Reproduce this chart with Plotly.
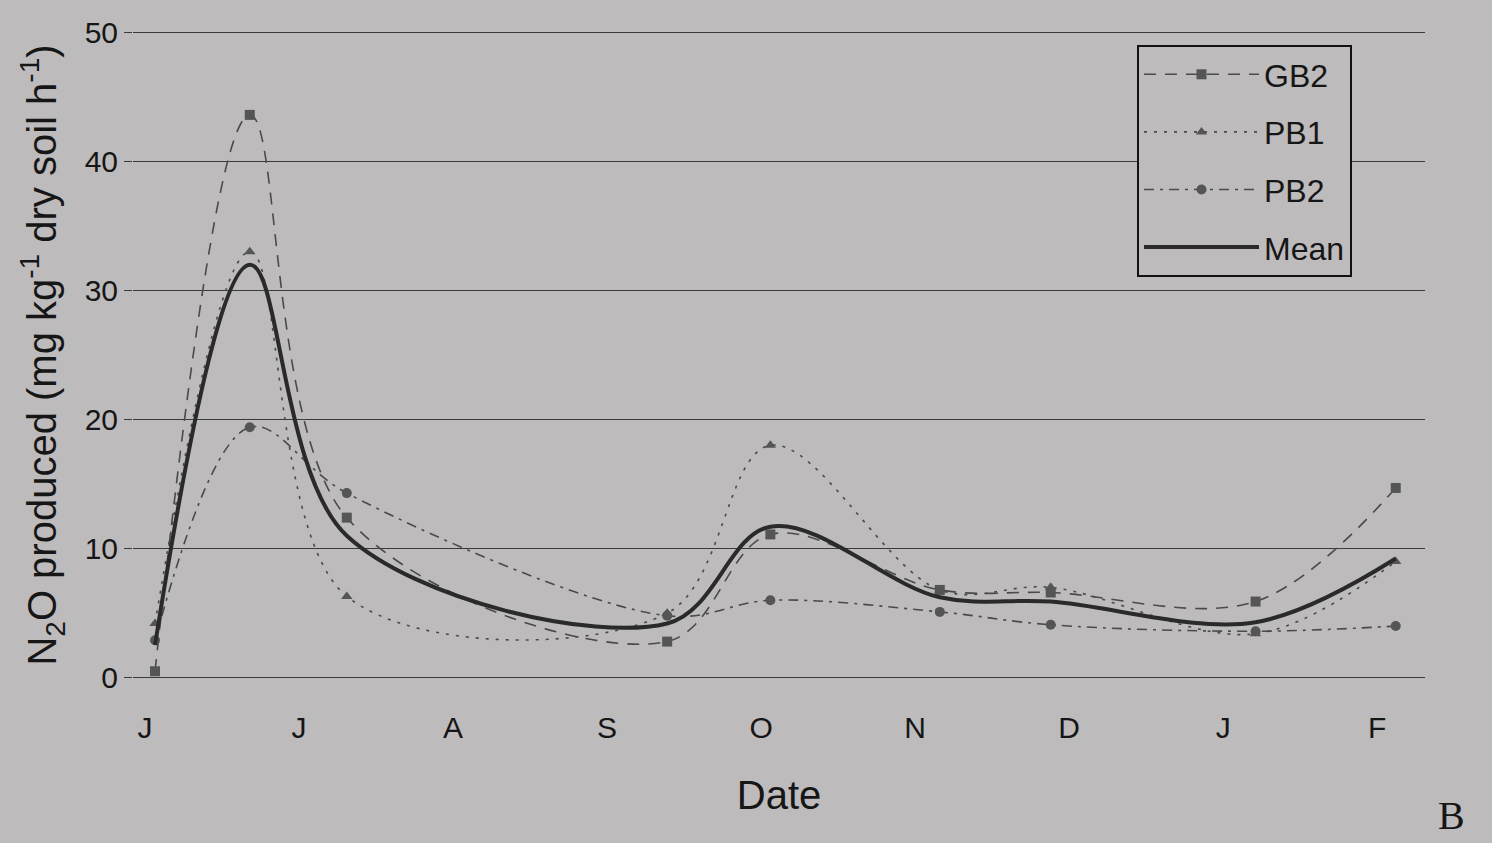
import plotly.graph_objects as go

# Sampling positions, in months after the start of June
sample_pos = [0.065, 0.68, 1.31, 3.39, 4.06, 5.16, 5.88, 7.21, 8.12]

gb2 = [0.5, 43.6, 12.4, 2.8, 11.1, 6.8, 6.6, 5.9, 14.7]
pb1 = [4.2, 33.0, 6.3, 5.0, 18.0, 6.8, 7.0, 3.4, 9.0]
pb2 = [2.9, 19.4, 14.3, 4.8, 6.0, 5.1, 4.1, 3.6, 4.0]
mean_vals = [round((a + b + c) / 3, 2) for a, b, c in zip(gb2, pb1, pb2)]

month_pos = [0, 1, 2, 3, 4, 5, 6, 7, 8]
month_labels = ["J", "J", "A", "S", "O", "N", "D", "J", "F"]
y_ticks = [0, 10, 20, 30, 40, 50]

BG = "#bebbbd"
LINE = "#4a4a4a"
FONT = "Liberation Sans, Arial, sans-serif"
TXT = "#161616"

fig = go.Figure()

series = [
    ("GB2", gb2, "square", "12px,9px"),
    ("PB1", pb1, "triangle-up", "3px,7px"),
    ("PB2", pb2, "circle", "10px,6px,3px,6px"),
]
for name, vals, sym, dash in series:
    fig.add_trace(go.Scatter(
        x=sample_pos, y=vals, name=name, legendgroup=name,
        mode="lines+markers",
        line=dict(color=LINE, width=1.6, dash=dash, shape="spline", smoothing=1.0),
        marker=dict(symbol=sym, size=10, color="#555555"),
    ))

fig.add_trace(go.Scatter(
    x=sample_pos, y=mean_vals, name="Mean", legendgroup="Mean",
    mode="lines",
    line=dict(color="#2a2a2a", width=4, shape="spline", smoothing=1.0),
))

H_PLOT = 648
fig.update_layout(
    width=1492, height=843,
    paper_bgcolor=BG, plot_bgcolor=BG,
    margin=dict(l=133, r=67, t=31, b=164),
    font=dict(family=FONT, color=TXT, size=30),
    showlegend=True,
    legend=dict(
        x=(1137 - 133) / 1292, y=(679 - 45) / H_PLOT, xanchor="left", yanchor="top",
        bgcolor=BG, bordercolor="#111111", borderwidth=2,
        font=dict(size=32, family=FONT, color=TXT),
        tracegroupgap=13, itemwidth=115,
    ),
    annotations=[dict(
        text="B", x=(1451 - 133) / 1292, y=(679 - 815) / H_PLOT,
        xref="paper", yref="paper", xanchor="center", yanchor="middle",
        showarrow=False,
        font=dict(family="Liberation Serif, Times New Roman, serif", size=40, color=TXT),
    )],
)

fig.update_xaxes(
    range=[-0.078, 8.31], tickvals=month_pos, ticktext=month_labels,
    showgrid=False, zeroline=False, showline=False, ticks="",
    ticklabelstandoff=28,
    tickfont=dict(size=30),
    title=dict(text="Date", font=dict(size=40), standoff=37),
)
fig.update_yaxes(
    range=[-0.1, 50.1], tickvals=y_ticks,
    showgrid=True, gridcolor="#3a3a3a", gridwidth=1.2,
    zeroline=False, showline=False,
    ticks="outside", ticklen=8, tickcolor="#3a3a3a",
    tickfont=dict(size=30),
    title=dict(text="N<sub>2</sub>O produced (mg kg<sup>-1</sup> dry soil h<sup>-1</sup>)",
               font=dict(size=40), standoff=15),
)

fig.write_html("out.html", config={"displayModeBar": False},
               post_script="document.body.style.margin='0';")
